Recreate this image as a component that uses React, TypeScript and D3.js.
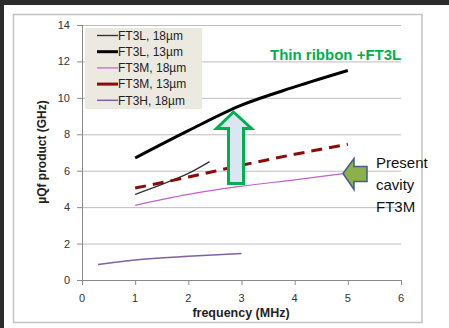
import { useEffect, useRef } from "react";
import * as d3 from "d3";

type Pt = [number, number];

// FT3L 18µm (thin black)
const ft3l18: Pt[] = [[1, 4.7], [1.5, 5.25], [2, 5.85], [2.4, 6.5]];
// FT3L 13µm (thick black)
const ft3l13: Pt[] = [[1, 6.7], [2, 8.2], [3, 9.6], [4, 10.6], [5, 11.5]];
// FT3M 18µm (thin violet)
const ft3m18: Pt[] = [[1, 4.1], [2, 4.7], [3, 5.15], [4, 5.5], [4.95, 5.85]];
// FT3M 13µm (dashed dark red)
const ft3m13: Pt[] = [[1, 5.05], [2, 5.65], [3, 6.3], [4, 6.9], [5, 7.45]];
// FT3H 18µm (purple)
const ft3h18: Pt[] = [[0.3, 0.85], [1, 1.1], [2, 1.3], [3, 1.45]];

const xTicks = [0, 1, 2, 3, 4, 5, 6];
const yTicks = [0, 2, 4, 6, 8, 10, 12, 14];

const series = [
  { name: "FT3L, 18µm", data: ft3l18, color: "#333333", width: 1.4, dash: null },
  { name: "FT3L, 13µm", data: ft3l13, color: "#000000", width: 3, dash: null },
  { name: "FT3M, 18µm", data: ft3m18, color: "#C060C8", width: 1.2, dash: null },
  { name: "FT3M, 13µm", data: ft3m13, color: "#8B0A0A", width: 3, dash: "11 7" },
  { name: "FT3H, 18µm", data: ft3h18, color: "#7F62A0", width: 1.5, dash: null },
];

export default function App() {
  const svgRef = useRef<SVGSVGElement>(null);

  useEffect(() => {
    if (!svgRef.current) return;
    const svg = d3.select(svgRef.current);
    svg.selectAll("*").remove();

    const W = 449, H = 328;
    const font = "'Liberation Sans', Arial, sans-serif";

    // frame
    svg.append("rect").attr("width", W).attr("height", H).attr("fill", "#2b2b2b");
    svg.append("rect").attr("x", 4).attr("y", 5).attr("width", W - 4).attr("height", H - 5).attr("fill", "#fff");
    svg.append("rect").attr("x", 13.5).attr("y", 14.5).attr("width", 408.5).attr("height", 308)
      .attr("fill", "none").attr("stroke", "#c4c4c4").attr("stroke-width", 1.5);

    const x = d3.scaleLinear().domain([0, 6]).range([82, 401]);
    const y = d3.scaleLinear().domain([0, 14]).range([280, 25]);

    // grid
    svg.append("g").selectAll("line").data(yTicks).enter().append("line")
      .attr("x1", x(0)).attr("x2", x(6))
      .attr("y1", (d) => y(d) + 0.5).attr("y2", (d) => y(d) + 0.5)
      .attr("stroke", (d) => (d === 0 ? "#8a8a8a" : "#bdbdbd")).attr("stroke-width", 1);

    // y axis
    svg.append("line").attr("x1", x(0) + 0.5).attr("x2", x(0) + 0.5).attr("y1", y(14)).attr("y2", y(0) + 0.5)
      .attr("stroke", "#8a8a8a");
    svg.append("g").selectAll("line").data(yTicks).enter().append("line")
      .attr("x1", x(0) - 5).attr("x2", x(0))
      .attr("y1", (d) => y(d) + 0.5).attr("y2", (d) => y(d) + 0.5)
      .attr("stroke", "#8a8a8a");
    svg.append("g").selectAll("text").data(yTicks).enter().append("text")
      .attr("x", x(0) - 12).attr("y", (d) => y(d) + 4)
      .attr("text-anchor", "end").attr("font-family", font).attr("font-size", 11)
      .attr("fill", "#333").text((d) => d);

    // x axis
    svg.append("g").selectAll("line").data(xTicks).enter().append("line")
      .attr("x1", (d) => x(d) + 0.5).attr("x2", (d) => x(d) + 0.5)
      .attr("y1", y(0)).attr("y2", y(0) + 5)
      .attr("stroke", "#8a8a8a");
    svg.append("g").selectAll("text").data(xTicks).enter().append("text")
      .attr("x", (d) => x(d)).attr("y", y(0) + 22)
      .attr("text-anchor", "middle").attr("font-family", font).attr("font-size", 11)
      .attr("fill", "#333").text((d) => d);

    // axis titles
    svg.append("text").attr("x", 241).attr("y", 317)
      .attr("text-anchor", "middle").attr("font-family", font).attr("font-size", 12.5)
      .attr("font-weight", "bold").attr("fill", "#222").text("frequency (MHz)");
    svg.append("text").attr("transform", "translate(46,152) rotate(-90)")
      .attr("text-anchor", "middle").attr("font-family", font).attr("font-size", 12)
      .attr("font-weight", "bold").attr("fill", "#222").text("µQf product (GHz)");

    // series
    const line = d3.line<Pt>().x((d) => x(d[0])).y((d) => y(d[1])).curve(d3.curveMonotoneX);
    series.forEach((s) => {
      const p = svg.append("path").datum(s.data)
        .attr("fill", "none").attr("stroke", s.color).attr("stroke-width", s.width)
        .attr("d", line);
      if (s.dash) p.attr("stroke-dasharray", s.dash);
    });

    // legend
    svg.append("rect").attr("x", 85).attr("y", 28).attr("width", 117).attr("height", 81).attr("fill", "#ECEAE0");
    series.forEach((s, i) => {
      const cy = 35.5 + i * 16.2;
      svg.append("line").attr("x1", 97).attr("x2", 118).attr("y1", cy).attr("y2", cy)
        .attr("stroke", s.color).attr("stroke-width", s.width);
      svg.append("text").attr("x", 118).attr("y", cy + 4.3)
        .attr("font-family", font).attr("font-size", 12).attr("fill", "#222").text(s.name);
    });

    // green up arrow
    const up: Pt[] = [[233.5, 112], [251.5, 128.5], [243.5, 128.5], [243.5, 183.5], [228.5, 183.5], [228.5, 128.5], [216.5, 128.5]];
    svg.append("polygon").attr("points", up.map((p) => p.join(",")).join(" "))
      .attr("fill", "#DCE6F2").attr("stroke", "#00B050").attr("stroke-width", 3).attr("stroke-linejoin", "miter");

    // left arrow
    const left: Pt[] = [[343, 173.5], [354, 158.5], [354, 166.5], [367, 166.5], [367, 181.5], [354, 181.5], [354, 189.5]];
    svg.append("polygon").attr("points", left.map((p) => p.join(",")).join(" "))
      .attr("fill", "#8DB04C").attr("stroke", "#3E5F8A").attr("stroke-width", 1.5);

    // annotations
    svg.append("text").attr("x", 270).attr("y", 59.5)
      .attr("font-family", font).attr("font-size", 15).attr("font-weight", "bold")
      .attr("fill", "#00B050").text("Thin ribbon +FT3L");
    ["Present", "cavity", "FT3M"].forEach((t, i) => {
      svg.append("text").attr("x", 376).attr("y", 168 + i * 22)
        .attr("font-family", font).attr("font-size", 15).attr("fill", "#111").text(t);
    });
  }, []);

  return (
    <div style={{ position: "fixed", left: 0, top: 0 }}>
      <svg ref={svgRef} width={449} height={328} style={{ display: "block" }} />
    </div>
  );
}
